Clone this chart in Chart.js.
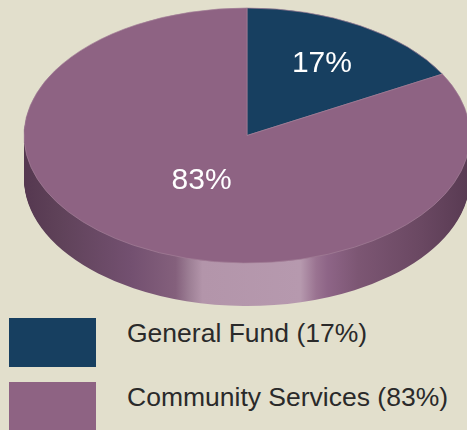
<!DOCTYPE html>
<html>
<head>
<meta charset="utf-8">
<script src="https://cdn.jsdelivr.net/npm/chart.js@4.4.1/dist/chart.umd.min.js"></script>
<style>
  html, body { margin: 0; padding: 0; background: #e2dfcc; }
  #wrap { position: relative; width: 467px; height: 430px; overflow: hidden; }
  #pie { position: absolute; left: 0; top: 0; }
  .key { position: absolute; left: 9px; width: 87px; height: 49px; }
  .keytext { position: absolute; left: 127px; font: 26.5px "Liberation Sans", Arial, sans-serif;
             line-height: 1; color: #2a2a2a; white-space: nowrap; }
</style>
</head>
<body>
<div id="wrap">
  <canvas id="pie" width="467" height="310"></canvas>
  <div id="legend"></div>
</div>
<script>
const categories = ['General Fund', 'Community Services'];
const shares = [17, 83];
const sliceColors = ['#173f60', '#8e6383'];

// where the tilted pie sits on the page
const ellipse = { cx: 247, cy: 135.5, rx: 223, ry: 127.5, depth: 43 };
const labelRadius = [0.66, 0.4];

const total = shares.reduce((a, b) => a + b, 0);
const pct = shares.map(v => Math.round(v / total * 100));

function pieTransform(arc) {
    const s = ellipse.rx / arc.outerRadius, t = ellipse.ry / arc.outerRadius;
    return { sx: s, sy: t, ox: ellipse.cx - arc.x * s, oy: ellipse.cy - arc.y * t };
}

const tiltPlugin = {
    id: 'tilt',
    beforeDatasetsDraw(chart) {
        const ctx = chart.ctx;
        const arcs = chart.getDatasetMeta(0).data;
        const m = pieTransform(arcs[0]);
        const r = arcs[0].outerRadius, x0 = arcs[0].x;

        // side wall, drawn as stacked copies of the slices
        const grad = ctx.createLinearGradient(x0 - r, 0, x0 + r, 0);
        [[0, '#553850'], [0.08, '#5f4259'], [0.24, '#735070'], [0.34, '#84607c'],
         [0.37, '#9c7e94'], [0.40, '#b395aa'], [0.62, '#b699ae'], [0.655, '#9a7391'],
         [0.68, '#8e6587'], [0.75, '#7c5673'], [0.89, '#6a4862'], [1, '#583a52']]
            .forEach(([o, c]) => grad.addColorStop(o, c));
        for (let k = ellipse.depth; k >= 1; k--) {
            ctx.save();
            ctx.setTransform(m.sx, 0, 0, m.sy, m.ox, m.oy + k);
            arcs.forEach(a => {
                const saved = a.options;
                a.options = Object.assign({}, saved, { backgroundColor: grad, borderWidth: 0 });
                a.draw(ctx);
                a.options = saved;
            });
            ctx.restore();
        }
        ctx.save();
        ctx.setTransform(m.sx, 0, 0, m.sy, m.ox, m.oy);
    },
    afterDatasetsDraw(chart) {
        const ctx = chart.ctx;
        ctx.restore();
        const arcs = chart.getDatasetMeta(0).data;
        const m = pieTransform(arcs[0]);
        ctx.save();
        ctx.fillStyle = '#ffffff';
        ctx.font = '30px "Liberation Sans", Arial, sans-serif';
        ctx.textAlign = 'center';
        ctx.textBaseline = 'middle';
        arcs.forEach((a, i) => {
            const mid = (a.startAngle + a.endAngle) / 2;
            const rr = a.outerRadius * labelRadius[i];
            const px = (a.x + Math.cos(mid) * rr) * m.sx + m.ox;
            const py = (a.y + Math.sin(mid) * rr) * m.sy + m.oy;
            ctx.fillText(pct[i] + '%', px, py + 1);
        });
        ctx.restore();
    }
};

new Chart(document.getElementById('pie'), {
    type: 'pie',
    data: {
        labels: categories,
        datasets: [{
            data: shares,
            backgroundColor: sliceColors,
            borderColor: '#a48098',
            borderWidth: 0.6,
            clip: false
        }]
    },
    options: {
        responsive: false,
        animation: false,
        layout: { padding: 0 },
        plugins: { legend: { display: false }, tooltip: { enabled: false } }
    },
    plugins: [tiltPlugin]
});

// legend
const legend = document.getElementById('legend');
const rowTops = [318, 382];
categories.forEach((name, i) => {
    const box = document.createElement('div');
    box.className = 'key';
    box.style.top = rowTops[i] + 'px';
    box.style.background = sliceColors[i];
    legend.appendChild(box);
    const txt = document.createElement('div');
    txt.className = 'keytext';
    txt.style.top = (rowTops[i] + 2) + 'px';
    txt.textContent = name + ' (' + pct[i] + '%)';
    legend.appendChild(txt);
});
</script>
</body>
</html>
